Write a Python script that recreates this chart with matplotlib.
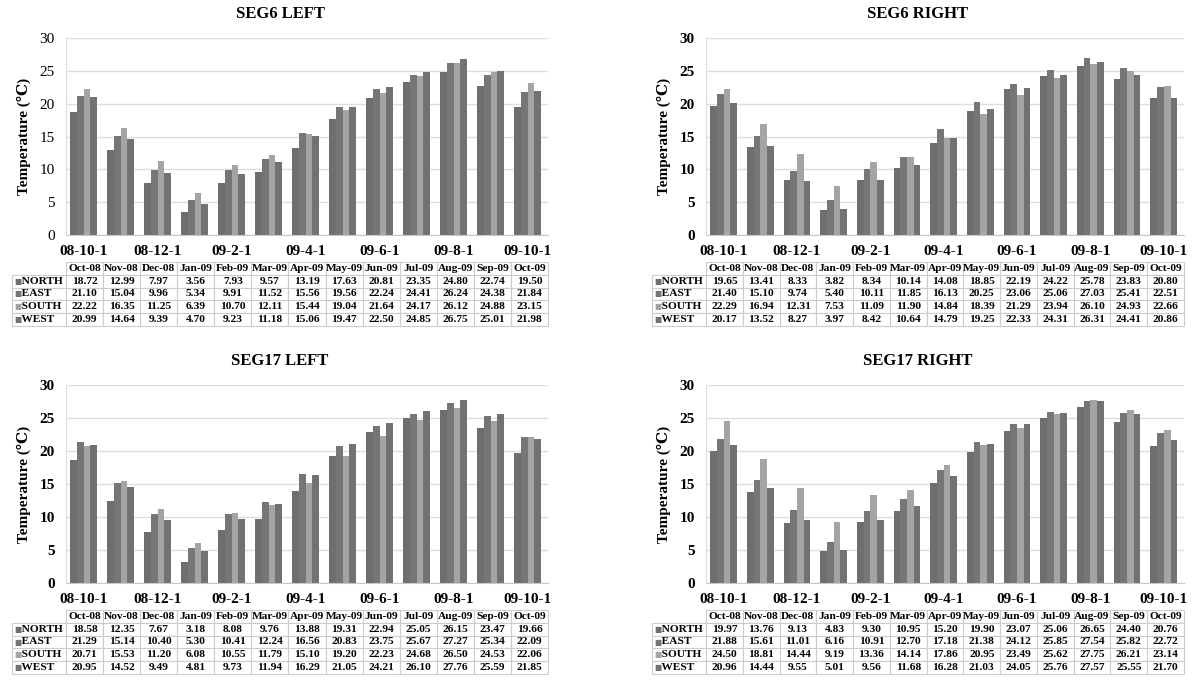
import numpy as np
import matplotlib
matplotlib.use("Agg")
from matplotlib import pyplot as plt

plt.rcParams['font.family'] = ['Liberation Serif', 'DejaVu Serif', 'DejaVu Sans']

months = ["Oct-08", "Nov-08", "Dec-08", "Jan-09", "Feb-09", "Mar-09", "Apr-09",
          "May-09", "Jun-09", "Jul-09", "Aug-09", "Sep-09", "Oct-09"]
tick_labels = ["08-10-1", "08-12-1", "09-2-1", "09-4-1", "09-6-1", "09-8-1", "09-10-1"]
directions = ["NORTH", "EAST", "SOUTH", "WEST"]

seg6_left = [
    [18.72, 12.99, 7.97, 3.56, 7.93, 9.57, 13.19, 17.63, 20.81, 23.35, 24.80, 22.74, 19.50],
    [21.10, 15.04, 9.96, 5.34, 9.91, 11.52, 15.56, 19.56, 22.24, 24.41, 26.24, 24.38, 21.84],
    [22.22, 16.35, 11.25, 6.39, 10.70, 12.11, 15.44, 19.04, 21.64, 24.17, 26.12, 24.88, 23.15],
    [20.99, 14.64, 9.39, 4.70, 9.23, 11.18, 15.06, 19.47, 22.50, 24.85, 26.75, 25.01, 21.98],
]
seg6_right = [
    [19.65, 13.41, 8.33, 3.82, 8.34, 10.14, 14.08, 18.85, 22.19, 24.22, 25.78, 23.83, 20.80],
    [21.40, 15.10, 9.74, 5.40, 10.11, 11.85, 16.13, 20.25, 23.06, 25.06, 27.03, 25.41, 22.51],
    [22.29, 16.94, 12.31, 7.53, 11.09, 11.90, 14.84, 18.39, 21.29, 23.94, 26.10, 24.93, 22.66],
    [20.17, 13.52, 8.27, 3.97, 8.42, 10.64, 14.79, 19.25, 22.33, 24.31, 26.31, 24.41, 20.86],
]
seg17_left = [
    [18.58, 12.35, 7.67, 3.18, 8.08, 9.76, 13.88, 19.31, 22.94, 25.05, 26.15, 23.47, 19.66],
    [21.29, 15.14, 10.40, 5.30, 10.41, 12.24, 16.56, 20.83, 23.75, 25.67, 27.27, 25.34, 22.09],
    [20.71, 15.53, 11.20, 6.08, 10.55, 11.79, 15.10, 19.20, 22.23, 24.68, 26.50, 24.53, 22.06],
    [20.95, 14.52, 9.49, 4.81, 9.73, 11.94, 16.29, 21.05, 24.21, 26.10, 27.76, 25.59, 21.85],
]
seg17_right = [
    [19.97, 13.76, 9.13, 4.83, 9.30, 10.95, 15.20, 19.90, 23.07, 25.06, 26.65, 24.40, 20.76],
    [21.88, 15.61, 11.01, 6.16, 10.91, 12.70, 17.18, 21.38, 24.12, 25.85, 27.54, 25.82, 22.72],
    [24.50, 18.81, 14.44, 9.19, 13.36, 14.14, 17.86, 20.95, 23.49, 25.62, 27.75, 26.21, 23.14],
    [20.96, 14.44, 9.55, 5.01, 9.56, 11.68, 16.28, 21.03, 24.05, 25.76, 27.57, 25.55, 21.70],
]

colors = ["#6e6e6e", "#767676", "#a4a4a4", "#727272"]

W, H = 1194, 686
fig = plt.figure(figsize=(W / 100, H / 100), dpi=100)


def panel(data, title, left_px, right_px, top_px, bottom_px, title_x_px, bold_ticks):
    ax = fig.add_axes([left_px / W, 1 - bottom_px / H,
                       (right_px - left_px) / W, (bottom_px - top_px) / H])
    x = np.arange(len(months))
    bw = 0.182
    for i, vals in enumerate(data):
        ax.bar(x + (i - 1.5) * bw, vals, width=bw, color=colors[i], linewidth=0)

    ax.set_xlim(-0.48, 12.55)
    ax.set_ylim(0, 30)
    ax.set_yticks(range(0, 31, 5))
    ax.set_xticks(x[::2])
    ax.set_xticklabels(tick_labels, fontsize=11, fontweight='bold')
    ax.tick_params(length=0, pad=7)
    ax.tick_params(axis='y', labelsize=11, pad=8)
    if bold_ticks:
        for t in ax.get_yticklabels():
            t.set_fontweight('bold')
    ax.grid(axis='y', color='#dedede', linewidth=1)
    ax.set_axisbelow(True)
    for s in ['top', 'right']:
        ax.spines[s].set_visible(False)
    ax.spines['left'].set_color('#dedede')
    ax.spines['bottom'].set_color('#c8c8c8')
    ax.set_ylabel("Temperature (℃)", fontsize=11, fontweight='bold', labelpad=6)

    fig.text(title_x_px / W, 1 - (top_px - 24) / H, title, ha='center', va='center',
             fontsize=12, fontweight='bold')

    # data table under the axes
    h_axes = bottom_px - top_px
    t_top = -(27 / h_axes)
    t_h = 64 / h_axes
    cell_text = [["%.2f" % v for v in row] for row in data]
    tb = ax.table(cellText=cell_text, colLabels=months, cellLoc='center',
                  bbox=[0, t_top - t_h, 1, t_h])
    tb.auto_set_font_size(False)
    lw = 54 / (right_px - left_px)
    row_h = tb[1, 0].get_height()
    for r, name in enumerate(directions):
        tb.add_cell(r + 1, -1, width=lw, height=row_h, text="   " + name, loc='left')
    for cell in tb.get_celld().values():
        cell.set_edgecolor('#cccccc')
        cell.set_linewidth(0.8)
        cell.get_text().set_fontsize(8.2)
        cell.get_text().set_fontweight('bold')
        cell.PAD = 0.02
    for r in range(len(directions)):
        yc = t_top - t_h * (r + 1.5) / 5
        ax.text(-lw + 0.005, yc, "■", transform=ax.transAxes, color=colors[r],
                fontsize=5.5, family='DejaVu Sans', va='center', ha='left')
    return ax


panel(seg6_left, "SEG6 LEFT", 66, 548, 38, 235, 280, False)
panel(seg6_right, "SEG6 RIGHT", 706, 1184, 38, 235, 918, True)
panel(seg17_left, "SEG17 LEFT", 66, 548, 385, 583, 280, True)
panel(seg17_right, "SEG17 RIGHT", 706, 1184, 385, 583, 918, True)

fig.savefig("out.png", dpi=100)
